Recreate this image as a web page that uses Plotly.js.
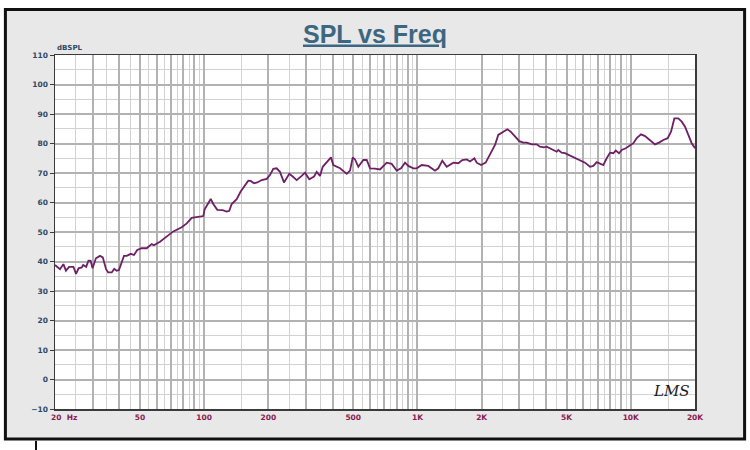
<!DOCTYPE html>
<html>
<head>
<meta charset="utf-8">
<script src="https://cdn.plot.ly/plotly-3.0.1.min.js"></script>
<style>
  html, body { margin: 0; padding: 0; background: #fff; }
  #chart { width: 750px; height: 450px; }
</style>
</head>
<body>
<div id="chart"></div>
<script>
const freqHz = [
  20, 21.1, 21.9, 22.5, 23.3, 24.4, 25.1, 25.8, 26.7, 27.1, 28.0, 28.7, 29.4, 30.0,
  31.1, 32.5, 33.5, 34.7, 35.5, 36.9, 37.9, 38.9, 39.9, 41.1, 42.1, 43.4, 45.3, 46.9,
  48.6, 51.0, 53.8, 56.8, 58.2, 62.1, 66.1, 71.7, 78.5, 82.9, 87.5, 93.9, 99.1, 100.6,
  107.4, 110.4, 115.3, 122.2, 127.6, 131.2, 134.7, 142.1, 148.4, 161.1, 165.3, 171.3,
  177.5, 186.2, 196.5, 203.6, 211, 218.8, 226.7, 236.8, 250.8, 260.2, 271.6, 286.7,
  297.2, 311.2, 327.5, 337.2, 349.4, 359.7, 382, 393.3, 403.2, 433.6, 466.2, 483,
  497.3, 509.8, 528.3, 557.6, 578.4, 599.5, 632.5, 667.6, 717.6, 757.4, 799.5, 837.6,
  874.4, 906.2, 956.4, 992.2, 1047, 1124, 1209, 1252, 1308, 1371, 1473, 1554, 1623,
  1702, 1764, 1848, 1896, 1986, 2088, 2188, 2267, 2310, 2393, 2526, 2638, 2736, 2866,
  3002, 3135, 3252, 3432, 3622, 3754, 3920, 4035, 4258, 4494, 4573, 4744, 4916, 5189,
  5477, 5781, 6102, 6440, 6675, 6924, 7173, 7435, 7712, 7993, 8284, 8500, 8810, 9070,
  9470, 9918, 10280, 10660, 11170, 11660, 12310, 12990, 13560, 14210, 14890, 15440,
  16000, 16700, 17330, 17960, 18610, 19300, 20000
];
const splDb = [
  38.8, 37.4, 39.1, 36.9, 38.2, 38.2, 35.8, 37.7, 38.0, 38.8, 38.2, 40.3, 40.2, 37.7,
  41.1, 41.9, 41.4, 37.4, 36.3, 36.3, 37.5, 36.9, 37.1, 39.4, 41.9, 41.9, 42.6, 42.2,
  43.9, 44.5, 44.5, 45.9, 45.5, 46.7, 48.2, 50.2, 51.6, 52.9, 54.8, 55.2, 55.4, 57.7,
  61.2, 59.5, 57.5, 57.4, 56.9, 57.2, 59.5, 61.1, 63.7, 67.4, 67.3, 66.5,
  66.8, 67.6, 68.0, 69.3, 71.4, 71.6, 70.4, 66.8, 69.7, 68.8, 67.6, 69.0,
  70.1, 67.9, 68.8, 70.4, 69.0, 72.1, 74.4, 75.3, 72.7, 71.6, 69.7, 70.8,
  75.3, 74.6, 72.1, 74.4, 74.4, 71.6, 71.5, 71.2, 73.5, 73.1, 70.8, 71.6,
  73.5, 72.4, 71.6, 71.6, 72.7, 72.4, 70.8, 71.6, 74.2, 72.1, 73.5, 73.3, 74.4,
  74.6, 73.9, 75.0, 73.5, 72.7, 73.5, 76.3, 78.0, 79.5, 82.9, 84.0, 84.8, 84.0, 82.3,
  80.8, 80.3, 80.3, 79.7, 79.7, 78.9, 78.7, 78.9, 78.0, 77.2, 77.8, 76.9, 76.7, 75.9,
  75.3, 74.4, 73.5, 72.1, 72.4, 73.7, 73.2, 72.7, 75.0, 76.9, 76.7, 77.6, 76.7, 77.8,
  78.4, 79.5, 80.1, 81.8, 83.1, 82.5, 81.2, 79.7, 80.3, 81.2, 81.8, 84.0,
  88.5, 88.5, 87.4, 85.7, 82.9, 80.1, 78.4
];

const xLabelVals = [20, 50, 100, 200, 500, 1000, 2000, 5000, 10000, 20000];
const xLabelText = ['\u00a0\u00a0\u00a0\u00a0\u00a0\u00a0\u00a020\u00a0\u00a0Hz',
  '50', '100', '200', '500', '1K', '2K', '5K', '10K', '20K'];
const yTickVals = [-10, 0, 10, 20, 30, 40, 50, 60, 70, 80, 90, 100, 110];

// log grid: whole multiples dark, half steps light
const gridMajor = [];
const gridMinor = [];
[10, 100, 1000, 10000].forEach(dec => {
  for (let m = 1; m <= 9.5; m += 0.5) {
    const v = Math.round(dec * m);
    if (v < 20 || v > 20000) continue;
    (m % 1 === 0 ? gridMajor : gridMinor).push(v);
  }
});
if (!gridMajor.includes(20000)) gridMajor.push(20000);
const xTickText = gridMajor.map(v => {
  const i = xLabelVals.indexOf(v);
  return i >= 0 ? xLabelText[i] : '';
});

const tickFont = (color) => ({ family: 'DejaVu Sans, sans-serif', size: 7.5, color, weight: 'bold' });

const trace = {
  x: freqHz,
  y: splDb,
  type: 'scatter',
  mode: 'lines',
  line: { color: '#6e1f66', width: 1.8 },
  hoverinfo: 'skip',
};

const layout = {
  width: 750,
  height: 450,
  margin: { l: 55, r: 55, t: 55, b: 41 },
  paper_bgcolor: '#ffffff',
  plot_bgcolor: '#ffffff',
  showlegend: false,
  title: {
    text: '<u>SPL vs Freq</u>',
    font: { family: 'Liberation Sans, Arial, sans-serif', size: 25, color: '#3d6781', weight: 'bold' },
    x: 0.5, xref: 'paper', xanchor: 'center',
    y: 0.925, yref: 'container', yanchor: 'middle',
  },
  xaxis: {
    type: 'log',
    range: [Math.log10(20), Math.log10(20000)],
    tickmode: 'array',
    tickvals: gridMajor,
    ticktext: xTickText,
    ticks: '',
    tickfont: tickFont('#8a1a50'),
    showgrid: true,
    gridcolor: '#b2b2b2',
    gridwidth: 2,
    minor: { tickmode: 'array', tickvals: gridMinor, showgrid: true, gridcolor: '#d2d2d2', gridwidth: 1, ticks: '' },
    showline: true, mirror: true, linecolor: '#3a3a3a', linewidth: 1.5,
    zeroline: false,
    fixedrange: true,
  },
  yaxis: {
    range: [-10, 110],
    tickmode: 'array',
    tickvals: yTickVals,
    ticks: 'outside', ticklen: 4, tickcolor: '#3a3a3a', tickwidth: 1,
    tickfont: tickFont('#2c4a66'),
    showgrid: true,
    gridcolor: '#b2b2b2',
    gridwidth: 2,
    minor: { dtick: 5, showgrid: true, gridcolor: '#d2d2d2', gridwidth: 1, ticks: '' },
    showline: true, mirror: true, linecolor: '#3a3a3a', linewidth: 1.5,
    zeroline: false,
    fixedrange: true,
  },
  shapes: [
    // grey panel with black frame
    { type: 'rect', xref: 'paper', yref: 'paper', layer: 'below',
      x0: -0.0775, x1: 1.0775, y0: -0.0847, y1: 1.1285,
      fillcolor: '#e8e8e8', line: { color: '#111', width: 3 } },
    // white plot area on top of the panel
    { type: 'rect', xref: 'paper', yref: 'paper', layer: 'below',
      x0: 0, x1: 1, y0: 0, y1: 1, fillcolor: '#ffffff', line: { width: 0 } },
    { type: 'line', xref: 'paper', yref: 'paper', x0: -0.0297, x1: -0.0297, y0: -0.09, y1: -0.12,
      line: { color: '#111', width: 2 } },
  ],
  annotations: [
    { text: 'dBSPL', xref: 'paper', yref: 'paper', x: 0, y: 1.02, xanchor: 'left', yanchor: 'middle',
      showarrow: false, font: { family: 'DejaVu Sans, sans-serif', size: 7, color: '#2c4a66', weight: 'bold' } },
    { text: '<i>LMS</i>', xref: 'paper', yref: 'paper', x: 0.964, y: 0.05, xanchor: 'center', yanchor: 'middle',
      showarrow: false, font: { family: 'DejaVu Serif, serif', size: 15, color: '#1a1a1a' } },
  ],
};

Plotly.newPlot('chart', [trace], layout, { staticPlot: true, displaylogo: false });
</script>
</body>
</html>
